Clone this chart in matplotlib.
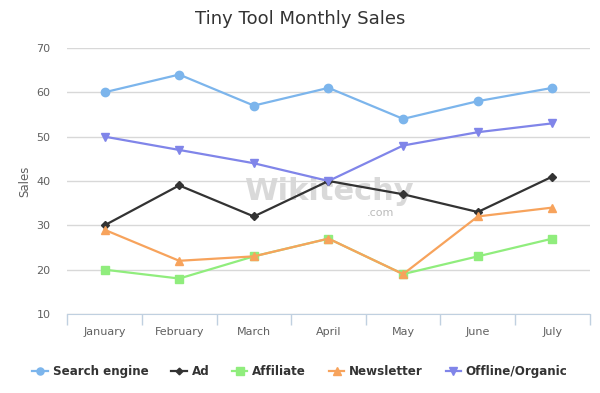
import matplotlib.pyplot as plt
import numpy as np

months = ['January', 'February', 'March', 'April', 'May', 'June', 'July']
search_engine = [60, 64, 57, 61, 54, 58, 61]
ad = [30, 39, 32, 40, 37, 33, 41]
affiliate = [20, 18, 23, 27, 19, 23, 27]
newsletter = [29, 22, 23, 27, 19, 32, 34]
offline = [50, 47, 44, 40, 48, 51, 53]

series = [
    ('Search engine', search_engine, '#7cb5ec', 'o', 6),
    ('Ad', ad, '#333333', 'D', 4),
    ('Affiliate', affiliate, '#90ed7d', 's', 6),
    ('Newsletter', newsletter, '#f7a35c', '^', 6),
    ('Offline/Organic', offline, '#8085e9', 'v', 6),
]

fig = plt.figure(figsize=(6, 3.93), dpi=100)
ax = fig.add_axes([0.112, 0.201, 0.871, 0.677])

x = np.arange(len(months))
for name, vals, color, marker, ms in series:
    ax.plot(x, vals, color=color, linewidth=1.6, marker=marker, markersize=ms, label=name)

ax.set_xlim(-0.5, len(months) - 0.5)
ax.set_ylim(10, 70)
ax.set_yticks(range(10, 71, 10))
ax.yaxis.grid(True, color='#d8d8d8', linewidth=1)
ax.set_axisbelow(True)

ax.set_xticks(x)
ax.set_xticklabels(months)
ax.set_xticks(np.arange(-0.5, len(months)), minor=True)
ax.tick_params(axis='x', which='major', length=0, pad=9, labelsize=8, labelcolor='#606060')
ax.tick_params(axis='x', which='minor', length=8, color='#c0d0e0', width=1)
ax.tick_params(axis='y', length=0, pad=12, labelsize=8, labelcolor='#606060')

for s in ['top', 'right', 'left']:
    ax.spines[s].set_visible(False)
ax.spines['bottom'].set_color('#c0d0e0')

ax.set_ylabel('Sales', fontsize=8.5, color='#606060', labelpad=4)
fig.suptitle('Tiny Tool Monthly Sales', y=0.975, fontsize=13, color='#333333')

# watermark
ax.text(0.5, 0.46, 'Wikitechy', transform=ax.transAxes, fontsize=22, fontweight='bold',
        color='#d0d0d0', alpha=0.8, ha='center', va='center', zorder=0)
ax.text(0.6, 0.38, '.com', transform=ax.transAxes, fontsize=8,
        color='#bbbbbb', ha='center', va='center', zorder=0)

leg = fig.legend(loc='lower center', bbox_to_anchor=(0.5, 0.01), ncol=5, frameon=False,
                 prop={'weight': 'bold', 'size': 8.6}, handlelength=1.3, columnspacing=1.9,
                 handletextpad=0.4, markerscale=0.85)
for t in leg.get_texts():
    t.set_color('#333333')

fig.savefig('out.png', dpi=100)
